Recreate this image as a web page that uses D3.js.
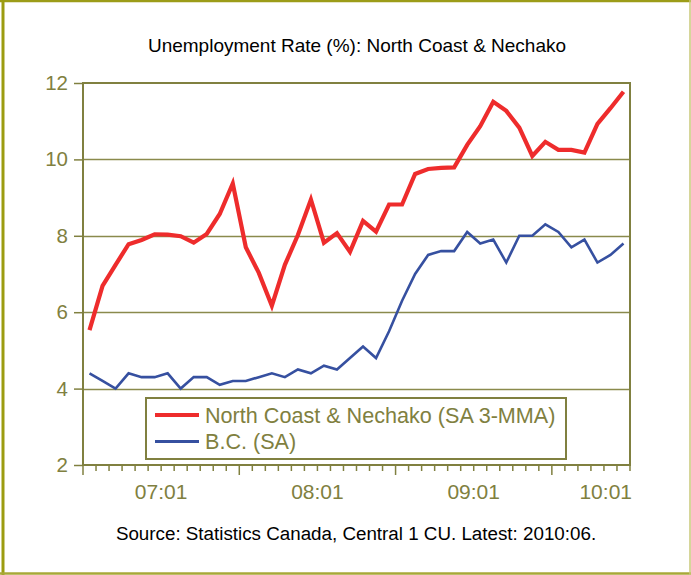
<!DOCTYPE html>
<html>
<head>
<meta charset="utf-8">
<script src="https://cdn.jsdelivr.net/npm/d3@7"></script>
<style>
  html, body { margin: 0; padding: 0; background: #fff; }
  svg { display: block; font-family: "Liberation Sans", Arial, sans-serif; }
</style>
</head>
<body>
<svg id="chart" width="691" height="575"></svg>
<script>
// ---- data ----
const categories = [
  "2007-01","2007-02","2007-03","2007-04","2007-05","2007-06","2007-07","2007-08","2007-09","2007-10","2007-11","2007-12",
  "2008-01","2008-02","2008-03","2008-04","2008-05","2008-06","2008-07","2008-08","2008-09","2008-10","2008-11","2008-12",
  "2009-01","2009-02","2009-03","2009-04","2009-05","2009-06","2009-07","2009-08","2009-09","2009-10","2009-11","2009-12",
  "2010-01","2010-02","2010-03","2010-04","2010-05","2010-06"
];
const northCoast = [5.53,6.69,7.24,7.78,7.89,8.04,8.03,7.99,7.82,8.05,8.57,9.37,
  7.70,7.03,6.17,7.24,8.02,8.95,7.82,8.07,7.58,8.39,8.11,8.82,
  8.82,9.62,9.75,9.78,9.79,10.38,10.87,11.51,11.27,10.83,10.09,10.46,
  10.25,10.25,10.18,10.93,11.34,11.77];
const bc = [4.4,4.2,4.0,4.4,4.3,4.3,4.4,4.0,4.3,4.3,4.1,4.2,
  4.2,4.3,4.4,4.3,4.5,4.4,4.6,4.5,4.8,5.1,4.8,5.5,
  6.3,7.0,7.5,7.6,7.6,8.1,7.8,7.9,7.3,8.0,8.0,8.3,
  8.1,7.7,7.9,7.3,7.5,7.8];
const xTickKeys = ["2007-01","2008-01","2009-01","2010-01"];
const xTickLabels = ["07:01","08:01","09:01","10:01"];
const yTicks = [2,4,6,8,10,12];
const seriesNames = ["North Coast & Nechako (SA 3-MMA)", "B.C. (SA)"];
const seriesColors = ["#ee2c2c", "#3650a0"];
const title = "Unemployment Rate (%): North Coast & Nechako";
const source = "Source: Statistics Canada, Central 1 CU. Latest: 2010:06.";

// ---- layout ----
const olive = "#808040";
const plot = {left: 83, right: 630, top: 83, bottom: 465};
const svg = d3.select("#chart");

// outer frame
svg.append("rect").attr("x", 0).attr("y", 0).attr("width", 691).attr("height", 575).attr("fill", "#fff");
svg.append("line").attr("x1", 0).attr("x2", 691).attr("y1", 1).attr("y2", 1).attr("stroke", "#9c9c18").attr("stroke-width", 2.5);
svg.append("line").attr("x1", 3).attr("x2", 3).attr("y1", 0).attr("y2", 575).attr("stroke", "#9c9c10").attr("stroke-width", 3);
svg.append("line").attr("x1", 0).attr("x2", 691).attr("y1", 573.5).attr("y2", 573.5).attr("stroke", "#a8a838").attr("stroke-width", 2.5);
svg.append("line").attr("x1", 690).attr("x2", 690).attr("y1", 0).attr("y2", 575).attr("stroke", "#c8c878").attr("stroke-width", 1.5);

const x = d3.scaleBand().domain(categories).range([plot.left, plot.right]);
const bw = x.bandwidth();
const y = d3.scaleLinear().domain([2, 12]).range([plot.bottom, plot.top]);
const cx = c => x(c) + bw / 2;

// title
svg.append("text").attr("x", 357).attr("y", 52).attr("text-anchor", "middle")
  .attr("font-size", 19).attr("fill", "#000").text(title);

// gridlines
svg.append("g").selectAll("line").data(yTicks.filter(v => v > 2 && v < 12)).join("line")
  .attr("x1", plot.left).attr("x2", plot.right)
  .attr("y1", d => Math.round(y(d)) + 0.5).attr("y2", d => Math.round(y(d)) + 0.5)
  .attr("stroke", "#8a8a4c").attr("stroke-width", 1.3);

// plot border
svg.append("rect").attr("x", plot.left).attr("y", plot.top)
  .attr("width", plot.right - plot.left).attr("height", plot.bottom - plot.top)
  .attr("fill", "none").attr("stroke", olive).attr("stroke-width", 2);

// y axis
const yAxis = d3.axisLeft(y).tickValues(yTicks).tickSize(9).tickPadding(6).tickFormat(d3.format("d"));
const yg = svg.append("g").attr("transform", `translate(${plot.left},0)`).call(yAxis);
yg.select(".domain").remove();
yg.selectAll(".tick line").attr("stroke", olive).attr("stroke-width", 1.5);
yg.selectAll(".tick text").attr("fill", olive).attr("font-size", 20.5)
  .attr("font-family", "Liberation Sans, Arial, sans-serif");

// x axis ticks (boundaries between categories)
const boundaries = categories.map(c => x(c)).concat([plot.right]);
svg.append("g").selectAll("line").data(boundaries).join("line")
  .attr("x1", d => d).attr("x2", d => d)
  .attr("y1", plot.bottom)
  .attr("y2", (d, i) => plot.bottom + (i % 12 === 0 ? 10 : 6))
  .attr("stroke", olive).attr("stroke-width", 1.5);

// x tick labels, centered across each 12-month group
const xl = svg.append("g");
xTickKeys.forEach((k, i) => {
  let center = x(k) + bw * 6;
  const t = xl.append("text").attr("y", 499).attr("text-anchor", "middle")
    .attr("fill", olive).attr("font-size", 21).text(xTickLabels[i]);
  const w = t.node().getComputedTextLength();
  if (center + w / 2 > plot.right + 2) center = plot.right + 2 - w / 2;
  t.attr("x", center);
});

// lines
const line = d3.line().x((d, i) => cx(categories[i])).y(d => y(d));
svg.append("path").datum(bc).attr("d", line).attr("fill", "none")
  .attr("stroke", seriesColors[1]).attr("stroke-width", 2.6).attr("stroke-linejoin", "miter");
svg.append("path").datum(northCoast).attr("d", line).attr("fill", "none")
  .attr("stroke", seriesColors[0]).attr("stroke-width", 4.2).attr("stroke-linejoin", "miter");

// legend
const lg = svg.append("g");
lg.append("rect").attr("x", 146).attr("y", 398).attr("width", 420).attr("height", 61)
  .attr("fill", "#fff").attr("stroke", olive).attr("stroke-width", 2);
const legendY = [415, 441.5];
seriesNames.forEach((name, i) => {
  lg.append("line").attr("x1", 155).attr("x2", 199).attr("y1", legendY[i]).attr("y2", legendY[i])
    .attr("stroke", seriesColors[i]).attr("stroke-width", i === 0 ? 4 : 3);
  lg.append("text").attr("x", 205).attr("y", legendY[i] + 7.5)
    .attr("fill", olive).attr("font-size", 21.6).text(name);
});

// source
svg.append("text").attr("x", 356).attr("y", 540).attr("text-anchor", "middle")
  .attr("font-size", 18.8).attr("fill", "#000").text(source);
</script>
</body>
</html>
